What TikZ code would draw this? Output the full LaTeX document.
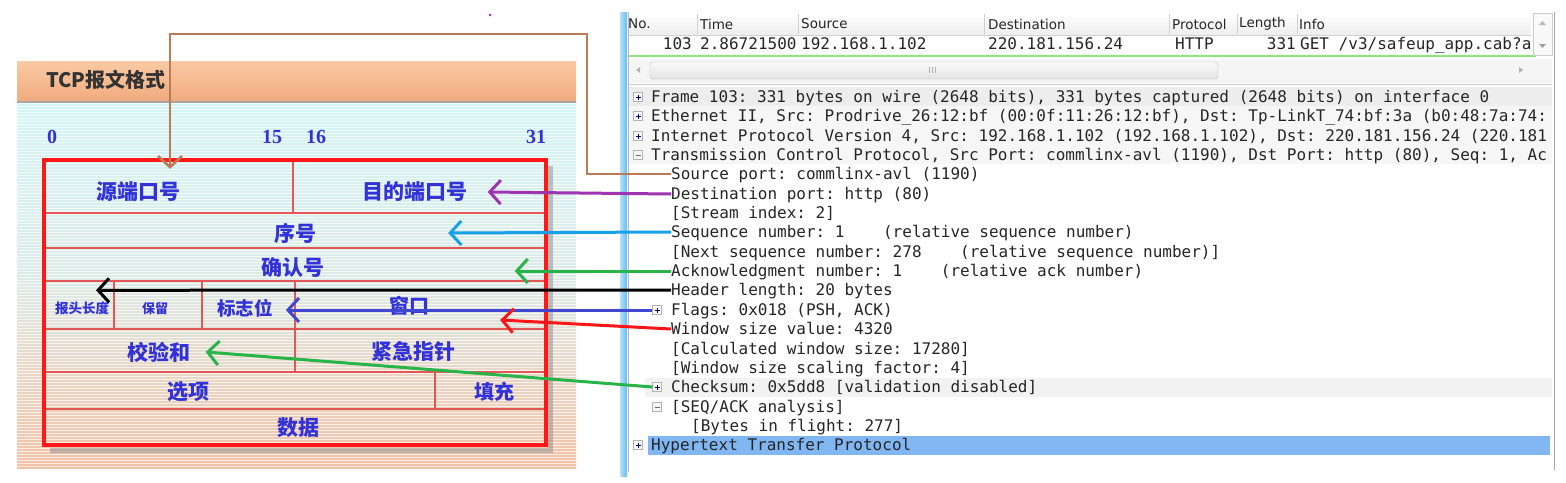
\documentclass[tikz,border=0pt]{standalone}
\usepackage{fontspec}
\usepackage{xcolor}
\usepackage{tikz}
\usetikzlibrary{arrows.meta,positioning,calc,patterns}

\newfontfamily\wsmonofam{DejaVu Sans Mono}
\newfontfamily\wssansfam{DejaVu Sans}
\newfontfamily\cjkfam{Noto Sans CJK SC}
\newfontfamily\numfam{Liberation Serif}

\definecolor{fieldblue}{RGB}{50,50,215}
\definecolor{framered}{RGB}{255,24,24}
\definecolor{cellred}{RGB}{226,86,86}
\definecolor{hdrtop}{RGB}{249,202,164}
\definecolor{hdrbot}{RGB}{240,170,124}
\definecolor{bgcyan}{RGB}{212,245,245}
\definecolor{bgmid}{RGB}{222,234,230}
\definecolor{bgpeach}{RGB}{243,194,166}
\definecolor{linebrown}{RGB}{188,122,86}
\definecolor{linepurple}{RGB}{158,52,178}
\definecolor{linecyan}{RGB}{24,160,232}
\definecolor{linegreen}{RGB}{40,180,72}
\definecolor{lineblue}{RGB}{64,72,210}
\definecolor{linered}{RGB}{255,22,22}
\definecolor{wsblue}{RGB}{128,182,242}
\definecolor{wsgreen}{RGB}{140,232,120}
\definecolor{barblue}{RGB}{96,188,240}

\begin{document}
\frenchspacing
\begin{tikzpicture}[x=1pt, y=-1pt,
    field/.style={inner sep=0pt, text=fieldblue, font=\cjkfam\bfseries\fontsize{#1}{#1}\selectfont},
    field/.default=21,
    bitnum/.style={inner sep=0pt, text=fieldblue, font=\numfam\bfseries\fontsize{20}{20}\selectfont},
    cell/.style={draw=cellred, line width=1.2pt},
    wshead/.style={anchor=west, inner sep=0pt, text=black!85, font=\wssansfam\fontsize{13.5}{14}\selectfont},
    wsline/.style={anchor=west, inner sep=0pt, text=black!85, text height=12pt, text depth=2pt, font=\wsmonofam\fontsize{16}{19}\selectfont},
    expbox/.style={draw=gray!60, fill=gray!6, minimum size=9pt, inner sep=0pt,
      path picture={\draw[black!60!blue, line width=.8pt] ($(path picture bounding box.center)+(-2.5,0)$) -- ++(5,0) ($(path picture bounding box.center)+(0,-2.5)$) -- ++(0,5);}},
    colbox/.style={draw=gray!60, fill=gray!6, minimum size=9pt, inner sep=0pt,
      path picture={\draw[black!60, line width=.8pt] ($(path picture bounding box.center)+(-2.5,0)$) -- ++(5,0);}},
    conn/.style={line width=3pt, -{Straight Barb[length=11pt,width=24pt]}}]
  \useasboundingbox (0,0) rectangle (1566,482);

  % left panel: TCP header layout
  \shade[top color=hdrtop, bottom color=hdrbot] (17,61) rectangle (576,102);
  \draw[black!35, line width=2pt] (17,102) -- (576,102);
  \shade[top color=bgcyan, bottom color=bgpeach, middle color=bgmid] (17,103) rectangle (576,468);
  \fill[pattern=horizontal lines, pattern color=white, opacity=.7] (17,103) rectangle (576,468);
  \node[anchor=west, inner sep=0pt, text=black!80, font=\cjkfam\bfseries\fontsize{20}{20}\selectfont] (title) at (46,80) {TCP报文格式};
  \node[bitnum] (bit0) at (52,137) {0};
  \node[bitnum] (bit15) at (272,137) {15};
  \node[bitnum] (bit16) at (316,137) {16};
  \node[bitnum] (bit31) at (536,137) {31};

  \draw[black!50, opacity=.45, line width=5pt] (550,166) -- (550,450) -- (50,450);
  \draw[cell] (44,213) -- (546,213);
  \draw[cell] (293,160) -- (293,213);
  \draw[cell] (44,248) -- (546,248);
  \draw[cell] (44,281) -- (546,281);
  \draw[cell] (44,329) -- (546,329);
  \draw[cell] (114,281) -- (114,329);
  \draw[cell] (202,281) -- (202,329);
  \draw[cell] (295,281) -- (295,372);
  \draw[cell] (44,372) -- (546,372);
  \draw[cell] (435,372) -- (435,409);
  \draw[cell] (44,409) -- (546,409);
  \draw[framered, line width=3.5pt] (44,160) rectangle (546,445);

  \node[field] (f-src) at (138,192) {源端口号};
  \node[field] (f-dst) at (415,192) {目的端口号};
  \node[field] (f-seq) at (295,233) {序号};
  \node[field] (f-ack) at (293,268) {确认号};
  \node[field=13.5] (f-hlen) at (82,308) {报头长度};
  \node[field=13] (f-resv) at (155,308) {保留};
  \node[field=18.5] (f-flags) at (245,308) {标志位};
  \node[field=20] (f-win) at (409,306) {窗口};
  \node[field] (f-chk) at (159,352) {校验和};
  \node[field] (f-urg) at (413,352) {紧急指针};
  \node[field] (f-opt) at (188,392) {选项};
  \node[field=20] (f-pad) at (494,392) {填充};
  \node[field] (f-data) at (298,428) {数据};

  \fill[linepurple] (490,15) circle (1.5);

  % right panel: capture window
  \fill[white] (620,12) rectangle (1556,476);
  \shade[left color=barblue!45, right color=barblue] (620,12) rectangle (627,476);
  \draw[gray!55] (628,12) -- (628,472);
  \draw[gray!70] (1554,12) -- (1554,470);

  % packet list
  \shade[top color=white, bottom color=gray!14] (629,13) rectangle (1531,35);
  \draw[gray!35] (629,35) -- (1531,35);
  \draw[gray!35] (697,14) -- (697,34);
  \draw[gray!35] (798,14) -- (798,34);
  \draw[gray!35] (984,14) -- (984,34);
  \draw[gray!35] (1169,14) -- (1169,34);
  \draw[gray!35] (1237,14) -- (1237,34);
  \draw[gray!35] (1297,14) -- (1297,34);
  \node[wshead] (h-no) at (628,24) {No.};
  \node[wshead] (h-time) at (700,24) {Time};
  \node[wshead] (h-src) at (801,24) {Source};
  \node[wshead] (h-dst) at (988,24) {Destination};
  \node[wshead] (h-proto) at (1172,24) {Protocol};
  \node[wshead] (h-len) at (1239,24) {Length};
  \node[wshead] (h-info) at (1299,24) {Info};
  \node[wsline, anchor=east] (p-no) at (692,44) {103};
  \node[wsline] (p-time) at (700,44) {2.86721500};
  \node[wsline] (p-src) at (801,44) {192.168.1.102};
  \node[wsline] (p-dst) at (988,44) {220.181.156.24};
  \node[wsline] (p-proto) at (1175,44) {HTTP};
  \node[wsline, anchor=east] (p-len) at (1296,44) {331};
  \node[wsline] (p-info) at (1300,44) {GET /v3/safeup\_app.cab?a};
  \draw[wsgreen, line width=2pt] (629,56) -- (1536,56);

  % scroll bars
  \fill[gray!5] (1533,13) rectangle (1552,55);
  \draw[gray!40] (1533,13) rectangle (1552,55);
  \fill[gray!55] (1539,25) -- (1546,25) -- (1542.5,21) -- cycle;
  \fill[gray!75] (1539,44) -- (1546,44) -- (1542.5,48) -- cycle;
  \fill[gray!8] (629,59) rectangle (1552,83);
  \fill[gray!60] (640,67) -- (640,73) -- (636,70) -- cycle;
  \fill[gray!60] (1519,67) -- (1519,73) -- (1523,70) -- cycle;
  \shadedraw[top color=gray!4, bottom color=gray!22, draw=gray!55, rounded corners=3pt] (650,62) rectangle (1218,79);
  \draw[gray!60] (929,67) -- (929,73) (932,67) -- (932,73) (935,67) -- (935,73);
  \draw[gray!40] (629,84) -- (1552,84);

  % packet details
  \fill[gray!14] (629,87) rectangle (1552,106);
  \fill[gray!7] (629,106) rectangle (1552,164);
  \fill[gray!10] (645,378) rectangle (1552,397);
  \fill[wsblue] (648,436) rectangle (1550,455);

  \node[expbox] (b-frame) at (638,97) {};
  \node[wsline] (l-frame) at (651,97) {Frame 103: 331 bytes on wire (2648 bits), 331 bytes captured (2648 bits) on interface 0};
  \node[expbox] (b-eth) at (638,116) {};
  \node[wsline] (l-eth) at (651,116) {Ethernet II, Src: Prodrive\_26:12:bf (00:0f:11:26:12:bf), Dst: Tp-LinkT\_74:bf:3a (b0:48:7a:74:};
  \node[expbox] (b-ip) at (638,136) {};
  \node[wsline] (l-ip) at (651,136) {Internet Protocol Version 4, Src: 192.168.1.102 (192.168.1.102), Dst: 220.181.156.24 (220.181};
  \node[colbox] (b-tcp) at (638,155) {};
  \node[wsline] (l-tcp) at (651,155) {Transmission Control Protocol, Src Port: commlinx-avl (1190), Dst Port: http (80), Seq: 1, Ac};
  \node[wsline] (l-srcport) at (671,174) {Source port: commlinx-avl (1190)};
  \node[wsline] (l-dstport) at (671,194) {Destination port: http (80)};
  \node[wsline] (l-stream) at (671,213) {[Stream index: 2]};
  \node[wsline] (l-seq) at (671,232) {Sequence number: 1\ \ \ \ (relative sequence number)};
  \node[wsline] (l-nextseq) at (671,252) {[Next sequence number: 278\ \ \ \ (relative sequence number)]};
  \node[wsline] (l-ack) at (671,271) {Acknowledgment number: 1\ \ \ \ (relative ack number)};
  \node[wsline] (l-hlen) at (671,290) {Header length: 20 bytes};
  \node[expbox] (b-flags) at (657,310) {};
  \node[wsline] (l-flags) at (671,310) {Flags: 0x018 (PSH, ACK)};
  \node[wsline] (l-win) at (671,329) {Window size value: 4320};
  \node[wsline] (l-calcwin) at (671,349) {[Calculated window size: 17280]};
  \node[wsline] (l-scale) at (671,368) {[Window size scaling factor: 4]};
  \node[expbox] (b-chk) at (657,387) {};
  \node[wsline] (l-chk) at (671,387) {Checksum: 0x5dd8 [validation disabled]};
  \node[colbox] (b-seqack) at (657,407) {};
  \node[wsline] (l-seqack) at (671,407) {[SEQ/ACK analysis]};
  \node[wsline] (l-bytes) at (691,426) {[Bytes in flight: 277]};
  \node[expbox] (b-http) at (638,445) {};
  \node[wsline] (l-http) at (651,445) {Hypertext Transfer Protocol};

  % connectors from capture lines to header fields
  \draw[conn, linebrown, line width=2.6pt] (l-srcport.west) -- ++(-84,0) -- ++(0,-140) -| ([xshift=32pt,yshift=13pt]f-src.north);
  \draw[conn, linepurple] (l-dstport.west) -- ([xshift=20pt]f-dst.east);
  \draw[conn, linecyan] (l-seq.west) -- ([xshift=132pt]f-seq.east);
  \draw[conn, linegreen] (l-ack.west) -- ([xshift=190pt,yshift=-3pt]f-ack.east);
  \draw[conn, black] (l-hlen.west) -- ([xshift=14pt,yshift=11pt]f-hlen.north);
  \draw[conn, lineblue] (b-flags.west) -- ([xshift=13pt,yshift=-2pt]f-flags.east);
  \draw[conn, linered] (l-win.west) -- ([xshift=71pt,yshift=-14pt]f-win.east);
  \draw[conn, linegreen] (b-chk.west) -- ([xshift=15pt]f-chk.east);
\end{tikzpicture}
\end{document}
